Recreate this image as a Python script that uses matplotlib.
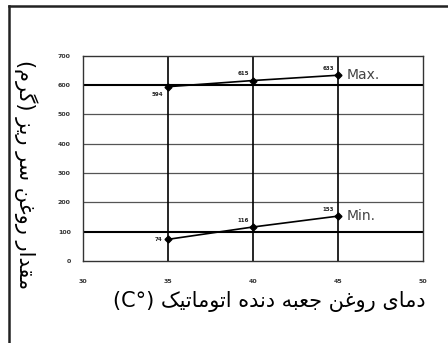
import re
import matplotlib
matplotlib.use("Agg")
import matplotlib.pyplot as plt
from matplotlib.lines import Line2D

# ---------------- data ----------------
temps = [35, 40, 45]
max_vals = [594, 615, 633]
min_vals = [74, 116, 153]
x_ticks = [30, 35, 40, 45, 50]
y_ticks = [0, 100, 200, 300, 400, 500, 600, 700]
series_names = ["Max.", "Min."]
x_label = "دمای روغن جعبه دنده اتوماتیک (C°)"
y_label = "مقدار روغن سر ریز (گرم)"

# ---------------- minimal Persian shaping ----------------
# letter: (isolated, final, initial, medial); right-joining letters have no initial/medial
FORMS = {
    'ا': ('\uFE8D', '\uFE8E', None, None),
    'د': ('\uFEA9', '\uFEAA', None, None),
    'ر': ('\uFEAD', '\uFEAE', None, None),
    'ز': ('\uFEAF', '\uFEB0', None, None),
    'و': ('\uFEED', '\uFEEE', None, None),
    'ب': ('\uFE8F', '\uFE90', '\uFE91', '\uFE92'),
    'ت': ('\uFE95', '\uFE96', '\uFE97', '\uFE98'),
    'ج': ('\uFE9D', '\uFE9E', '\uFE9F', '\uFEA0'),
    'س': ('\uFEB1', '\uFEB2', '\uFEB3', '\uFEB4'),
    'ع': ('\uFEC9', '\uFECA', '\uFECB', '\uFECC'),
    'غ': ('\uFECD', '\uFECE', '\uFECF', '\uFED0'),
    'ق': ('\uFED5', '\uFED6', '\uFED7', '\uFED8'),
    'م': ('\uFEE1', '\uFEE2', '\uFEE3', '\uFEE4'),
    'ن': ('\uFEE5', '\uFEE6', '\uFEE7', '\uFEE8'),
    'ه': ('\uFEE9', '\uFEEA', '\uFEEB', '\uFEEC'),
    'ی': ('\uFBFC', '\uFBFD', '\uFBFE', '\uFBFF'),
    'ک': ('\uFB8E', '\uFB8F', '\uFB90', '\uFB91'),
    'گ': ('\uFB92', '\uFB93', '\uFB94', '\uFB95'),
}


def dual(c):
    return c in FORMS and FORMS[c][2] is not None


def shape(text):
    out = []
    for i, c in enumerate(text):
        if c not in FORMS:
            out.append(c)
            continue
        prev_j = i > 0 and dual(text[i - 1])
        next_j = dual(c) and i + 1 < len(text) and text[i + 1] in FORMS
        iso, fin, ini, med = FORMS[c]
        if prev_j and next_j:
            out.append(med)
        elif prev_j:
            out.append(fin)
        elif next_j:
            out.append(ini)
        else:
            out.append(iso)
    s = ''.join(out)[::-1]
    s = s.translate(str.maketrans('()', ')('))
    s = re.sub(r'[A-Za-z0-9°]+', lambda m: m.group(0)[::-1], s)
    return s


# ---------------- figure ----------------
fig = plt.figure(figsize=(4.48, 3.43), dpi=100)
ax = fig.add_axes([0.186, 0.239, 0.758, 0.599])

ax.plot(temps, max_vals, color='black', lw=1.2, marker='D', ms=3.5, zorder=5)
ax.plot(temps, min_vals, color='black', lw=1.2, marker='D', ms=3.5, zorder=5)

ax.set_xlim(30, 50)
ax.set_ylim(0, 700)
ax.set_xticks(x_ticks)
ax.set_yticks(y_ticks)
ax.set_xticklabels([str(v) for v in x_ticks], fontsize=4.5, fontweight='bold', color='#333333')
ax.set_yticklabels([str(v) for v in y_ticks], fontsize=4.5, fontweight='bold', color='#333333')
ax.tick_params(axis='x', length=0, pad=13)
ax.tick_params(axis='y', length=0, pad=9)

for v in y_ticks[1:-1]:
    if v in (100, 600):
        ax.axhline(v, color='black', lw=1.5, zorder=1)
    else:
        ax.axhline(v, color='#555555', lw=0.9, zorder=1)
for v in x_ticks[1:-1]:
    ax.axvline(v, color='black', lw=1.2, zorder=1)
for sp in ax.spines.values():
    sp.set_color('#333333')
    sp.set_linewidth(1.0)

# data labels
for x, y in zip(temps, max_vals):
    if x == temps[0]:
        ax.annotate(str(y), (x, y), xytext=(-4, -4), textcoords='offset points',
                    ha='right', va='top', fontsize=4, fontweight='bold', color='#222222')
    else:
        ax.annotate(str(y), (x, y), xytext=(-3, 3), textcoords='offset points',
                    ha='right', va='bottom', fontsize=4, fontweight='bold', color='#222222')
for x, y in zip(temps, min_vals):
    if x == temps[0]:
        ax.annotate(str(y), (x, y), xytext=(-4, 0), textcoords='offset points',
                    ha='right', va='center', fontsize=4, fontweight='bold', color='#222222')
    else:
        ax.annotate(str(y), (x, y), xytext=(-3, 3), textcoords='offset points',
                    ha='right', va='bottom', fontsize=4, fontweight='bold', color='#222222')

ax.annotate(series_names[0], (temps[-1], max_vals[-1]), xytext=(6, 0), textcoords='offset points',
            ha='left', va='center', fontsize=10, color='#444444')
ax.annotate(series_names[1], (temps[-1], min_vals[-1]), xytext=(6, 0), textcoords='offset points',
            ha='left', va='center', fontsize=10, color='#444444')

# axis titles
fig.text(269 / 448, 1 - 302 / 343, shape(x_label), ha='center', va='center',
         fontsize=15, family='DejaVu Sans', color='black')
fig.text(26 / 448, 1 - 175 / 343, shape(y_label), ha='center', va='center',
         rotation=270, fontsize=15, family='DejaVu Sans', color='black')

# outer frame (left and top edges visible)
fig.add_artist(Line2D([9 / 448, 9 / 448], [0, 1 - 6 / 343], transform=fig.transFigure,
                      color='#222222', lw=1.8))
fig.add_artist(Line2D([9 / 448, 1], [1 - 6 / 343, 1 - 6 / 343], transform=fig.transFigure,
                      color='#222222', lw=1.8))

fig.savefig('out.png', dpi=100)
